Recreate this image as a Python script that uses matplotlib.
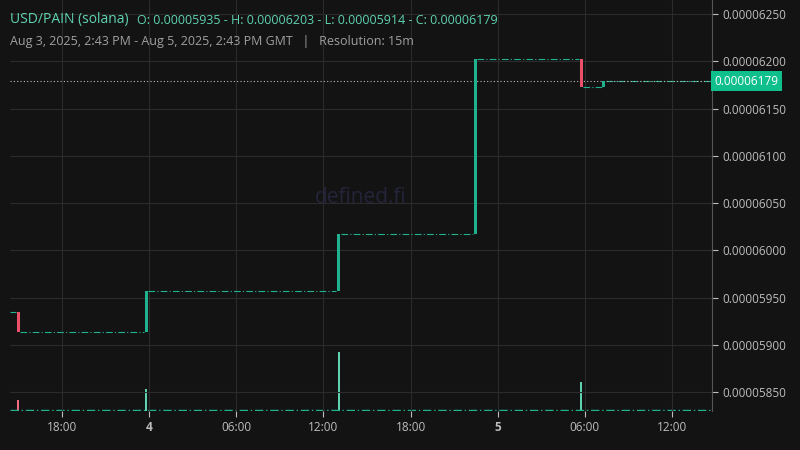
import matplotlib
matplotlib.use("Agg")
import matplotlib.pyplot as plt
from matplotlib.ticker import FixedLocator

# hours since Aug 3 2025 00:00 GMT
candle_t = [15.0, 23.8, 37.05, 46.45, 53.75, 55.3]
candle_o = [0.00005935, 0.00005914, 0.00005957, 0.00006017, 0.00006203, 0.00006173]
candle_c = [0.00005914, 0.00005957, 0.00006017, 0.00006203, 0.00006173, 0.00006179]
vol_t = [15.0, 23.8, 37.05, 53.75]
vol_v = [11, 22, 59, 29]
x_start, x_end = 14.43, 62.75
last_price = 0.00006179
xticks = [18, 24, 30, 36, 42, 48, 54, 60]
xlabels = ["18:00", "4", "06:00", "12:00", "18:00", "5", "06:00", "12:00"]
yticks = [0.0000585, 0.000059, 0.0000595, 0.00006, 0.0000605, 0.000061, 0.0000615, 0.000062, 0.0000625]

bg = "#131313"; up = "#20b28f"; down = "#e9506a"; grid = "#2b2b2b"
fig = plt.figure(figsize=(8, 4.5), dpi=100, facecolor=bg)
ax = fig.add_axes([10/800, 39/450, 702/800, 411/450])
ax.set_facecolor(bg)
vax = ax.twinx()
vax.set_ylim(0, 411)
vax.axis("off")
ax.set_zorder(vax.get_zorder() + 1); ax.patch.set_visible(False)

ax.set_xlim(x_start, x_end)
ax.set_ylim(0.0000583, 0.00006265)
ax.xaxis.set_major_locator(FixedLocator(xticks))
ax.set_xticklabels(xlabels)
for lbl, t in zip(ax.get_xticklabels(), xlabels):
    if len(t) == 1:
        lbl.set_fontweight("bold"); lbl.set_color("#e0e0e0")
ax.set_yticks(yticks)
ax.set_yticklabels([f"{v:.8f}" for v in yticks])
ax.yaxis.tick_right()
ax.tick_params(colors="#bdbdbd", labelsize=8.5, length=4, width=0.8)
for lab in ax.get_xticklabels() + ax.get_yticklabels():
    lab.set_family("Open Sans")
ax.grid(True, color=grid, lw=0.8)
for s in ["top", "left", "bottom"]:
    ax.spines[s].set_visible(False)
ax.spines["right"].set_color("#555555")

# flat segments between candles
seg_x = [x_start] + candle_t + [x_end]
seg_p = [candle_o[0]] + candle_c
for i in range(len(seg_p)):
    x0 = seg_x[i] + (0.15 if i > 0 else 0)
    x1 = seg_x[i + 1] - 0.15
    ax.plot([x0, x1], [seg_p[i], seg_p[i]], color=up, lw=0.8, ls=(0, (6, 2, 1, 2)))

for t, o, c in zip(candle_t, candle_o, candle_c):
    col = up if c >= o else down
    lo, hi = min(o, c), max(o, c)
    ax.bar(t, max(hi - lo, 0.0000000025), bottom=lo, width=0.2, color=col, zorder=3)

# volume
vax.plot([x_start, x_end], [1, 1], color=up, lw=1, ls=(0, (6, 2, 1, 2)))
for t, v, o, c in zip(vol_t, vol_v, candle_o, candle_c):
    vax.bar(t, v, width=0.15, color="#5fd3b0" if c >= o else "#f06a82")
vax.set_xlim(x_start, x_end)

# last price line and label
ax.axhline(last_price, color="#bbbbbb", lw=0.8, ls=(0, (1, 2)))
ax.text(1.004, last_price, f"{last_price:.8f}", transform=ax.get_yaxis_transform(),
        va="center", ha="left", fontsize=8.5, color="#ffffff", family="Open Sans",
        bbox=dict(boxstyle="square,pad=0.3", fc="#0fbf8c", ec="none"))

ax.text(0.5, 0.52, "defined.fi", transform=ax.transAxes, ha="center", va="center",
        fontsize=15, color="#24243a", family="Open Sans")

fig.text(10/800, 1 - 20/450, "USD/PAIN (solana)", color="#5fd3b0", fontsize=10,
         family="Open Sans", va="center")
fig.text(137/800, 1 - 20/450, "O: 0.00005935 - H: 0.00006203 - L: 0.00005914 - C: 0.00006179",
         color="#5fd3b0", fontsize=9, family="Open Sans", va="center")
fig.text(10/800, 1 - 41/450, "Aug 3, 2025, 2:43 PM - Aug 5, 2025, 2:43 PM GMT   |   Resolution: 15m",
         color="#a0a0a0", fontsize=9, family="Open Sans", va="center")

fig.savefig("out.png", dpi=100, facecolor=bg)
